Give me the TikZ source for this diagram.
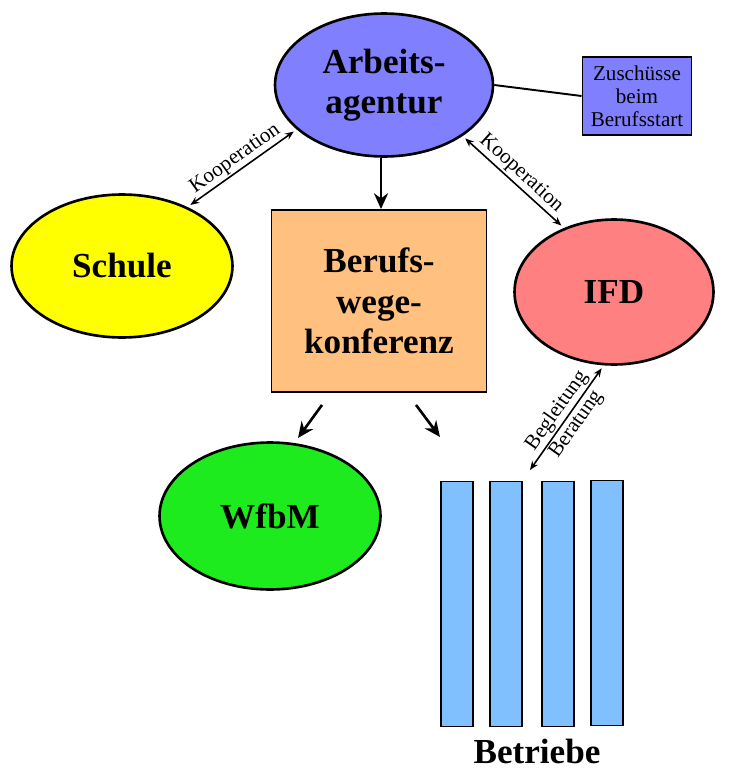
\documentclass[tikz,border=0pt]{standalone}
\usepackage{fontspec}
\setmainfont{Liberation Serif}
\usetikzlibrary{shapes.geometric,arrows.meta,calc}
\definecolor{agenturblau}{HTML}{8080FF}
\definecolor{schulgelb}{HTML}{FFFF00}
\definecolor{konferenzorange}{HTML}{FFC080}
\definecolor{ifdrot}{HTML}{FF8080}
\definecolor{wfbmgruen}{HTML}{1EEB1E}
\definecolor{betriebblau}{HTML}{80C0FF}
\begin{document}
\begin{tikzpicture}[x=0.02cm,y=-0.02cm,
	gross/.style={font=\fontsize{20}{23}\selectfont\bfseries, align=center},
	klein/.style={font=\fontsize{12}{13}\selectfont, inner sep=1pt},
	oval/.style={ellipse, draw, line width=1.5pt, inner sep=0, gross},
	kasten/.style={rectangle, draw, line width=1.1pt, inner sep=0},
	balken/.style={kasten, fill=betriebblau, minimum width=0.64cm, minimum height=4.9cm},
	pfeil/.style={-{Stealth[length=9pt,width=8pt]}, line width=1.5pt},
	dpfeil/.style={{Stealth[length=5pt,width=4pt]}-{Stealth[length=5pt,width=4pt]}, line width=0.9pt, shorten <=2pt, shorten >=2pt}]
	\useasboundingbox (0,0) rectangle (734,771);
	\node [oval, fill=agenturblau, minimum width=4.36cm, minimum height=2.86cm] (agentur) at (384,85) {Arbeits-\\agentur};
	\node [kasten, fill=agenturblau, minimum width=2.18cm, minimum height=1.56cm, klein, align=center] (zuschuss) at (637,96) {Zuschüsse\\beim\\Berufsstart};
	\node [oval, fill=schulgelb, minimum width=4.42cm, minimum height=2.86cm] (schule) at (122,266) {Schule};
	\node [kasten, fill=konferenzorange, minimum width=4.3cm, minimum height=3.64cm, gross] (konferenz) at (379,301) {Berufs-\\wege-\\konferenz};
	\node [oval, fill=ifdrot, minimum width=3.98cm, minimum height=2.9cm] (ifd) at (614,292) {IFD};
	\node [oval, fill=wfbmgruen, minimum width=4.42cm, minimum height=2.94cm] (wfbm) at (270,516) {WfbM};
	% Betriebe
	\node [balken] (betrieb1) at (457,604) {};
	\node [balken] (betrieb2) at (506,604) {};
	\node [balken] (betrieb3) at (558,604) {};
	\node [balken] (betrieb4) at (607,603) {};
	\node [gross, anchor=base] (betriebe) at (537,763) {Betriebe};
	\coordinate (betriebpfeil) at (440,437);
	\coordinate (begleitpfeil) at (530,470);

	\draw [line width=1.1pt] (agentur.east) -- (zuschuss.west);
	\draw [pfeil] ([xshift=-0.06cm]agentur.south) -- ([xshift=-0.06cm]agentur.south |- konferenz.north);
	\draw [pfeil] ($(konferenz.south)+(-57,12)$) -- ($(konferenz.south)+(-81,45)$);
	\draw [pfeil] ($(konferenz.south)+(37,12)$) -- (betriebpfeil);
	\draw [dpfeil] (schule.42) -- node [sloped, above, klein] {Kooperation} (agentur.207);
	\draw [dpfeil] (agentur.327) -- node [sloped, above, klein] {Kooperation} (ifd.128);
	\draw [dpfeil, shorten <=0pt] (begleitpfeil) -- node [sloped, above, klein] {Begleitung} node [sloped, below, klein] {Beratung} (ifd.262);
\end{tikzpicture}
\end{document}
